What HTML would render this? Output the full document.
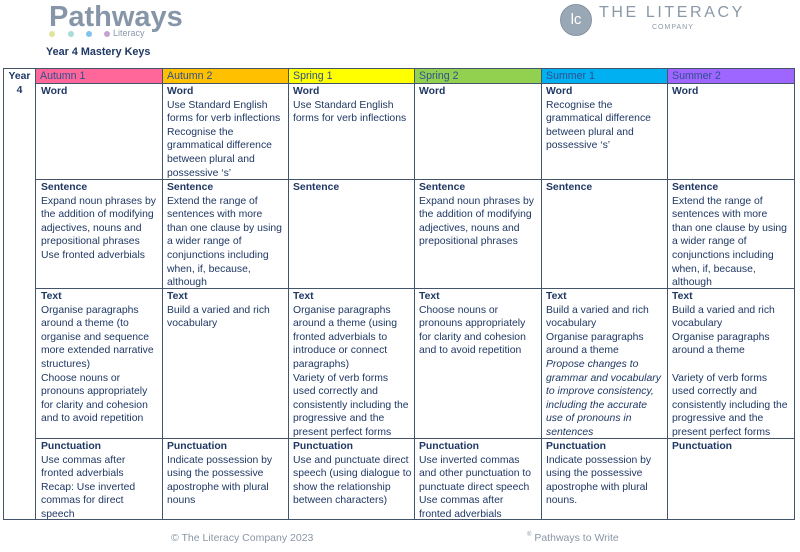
<!DOCTYPE html>
<html><head><meta charset="utf-8"><style>
body{margin:0;width:800px;height:552px;background:#fff;position:relative;overflow:hidden;font-family:"Liberation Sans",sans-serif;}
.c{position:absolute;font-size:10.4px;line-height:13.6px;color:#1f3864;white-space:nowrap;padding:1px 0 0 5px;box-sizing:border-box;}
.c b{font-weight:bold;}
.h{position:absolute;top:69px;height:14px;font-size:10.6px;line-height:14px;color:#2f4f8f;padding-left:5px;box-sizing:border-box;}
.vl{position:absolute;width:1px;background:#44546a;}
.hl{position:absolute;height:1px;background:#44546a;}
</style></head><body>
<div style="position:absolute;left:49px;top:1px;font-size:29px;font-weight:bold;color:#8696a8;letter-spacing:0px">Pathways</div>
<div style="position:absolute;left:49px;top:29px;width:120px;height:10px">
<span style="position:absolute;left:0;top:2px;width:6px;height:6px;border-radius:3px;background:#dfe59a"></span>
<span style="position:absolute;left:19px;top:2px;width:6px;height:6px;border-radius:3px;background:#a8dcd8"></span>
<span style="position:absolute;left:37px;top:2px;width:6px;height:6px;border-radius:3px;background:#7fc3ec"></span>
<span style="position:absolute;left:55px;top:2px;width:6px;height:6px;border-radius:3px;background:#c5a3cf"></span>
<span style="position:absolute;left:64px;top:-1px;font-size:9px;color:#8a9aac">Literacy</span></div>
<div style="position:absolute;left:46px;top:46px;font-size:10.8px;font-weight:bold;color:#1f3864">Year 4 Mastery Keys</div>
<div style="position:absolute;left:560px;top:4px;width:30px;height:30px;border-radius:50%;background:#9aa7b4;border:1px solid #8796a6;color:#fff;font-size:15px;line-height:30px;text-align:center">lc</div>
<div style="position:absolute;left:599px;top:4px;font-size:16px;letter-spacing:2.6px;color:#8a98a8">THE LITERACY</div>
<div style="position:absolute;left:652px;top:24px;font-size:7px;letter-spacing:1px;color:#8a98a8">COMPANY</div>

<div class="h" style="left:35px;width:127px;background:#ff6699">Autumn 1</div>
<div class="h" style="left:162px;width:126px;background:#ffc000">Autumn 2</div>
<div class="h" style="left:288px;width:126px;background:#ffff00">Spring 1</div>
<div class="h" style="left:414px;width:127px;background:#92d050">Spring 2</div>
<div class="h" style="left:541px;width:126px;background:#00b0f0">Summer 1</div>
<div class="h" style="left:667px;width:127px;background:#9f66ff">Summer 2</div>
<div class="c" style="left:4px;top:69px;width:31px;text-align:center;padding-left:0;font-weight:bold">Year<br>4</div>

<div class="vl" style="left:3px;top:68px;height:452px"></div>
<div class="vl" style="left:35px;top:68px;height:452px"></div>
<div class="vl" style="left:162px;top:68px;height:452px"></div>
<div class="vl" style="left:288px;top:68px;height:452px"></div>
<div class="vl" style="left:414px;top:68px;height:452px"></div>
<div class="vl" style="left:541px;top:68px;height:452px"></div>
<div class="vl" style="left:667px;top:68px;height:452px"></div>
<div class="vl" style="left:794px;top:68px;height:452px"></div>
<div class="hl" style="left:3px;top:68px;width:792px"></div>
<div class="hl" style="left:35px;top:83px;width:760px"></div>
<div class="hl" style="left:35px;top:179px;width:760px"></div>
<div class="hl" style="left:35px;top:288px;width:760px"></div>
<div class="hl" style="left:35px;top:438px;width:760px"></div>
<div class="hl" style="left:3px;top:519px;width:792px"></div>

<div class="c" style="left:36px;top:84px"><b>Word</b></div>
<div class="c" style="left:162px;top:84px"><b>Word</b><br>Use Standard English<br>forms for verb inflections<br>Recognise the<br>grammatical difference<br>between plural and<br>possessive ‘s’</div>
<div class="c" style="left:288px;top:84px"><b>Word</b><br>Use Standard English<br>forms for verb inflections</div>
<div class="c" style="left:414px;top:84px"><b>Word</b></div>
<div class="c" style="left:541px;top:84px"><b>Word</b><br>Recognise the<br>grammatical difference<br>between plural and<br>possessive ‘s’</div>
<div class="c" style="left:667px;top:84px"><b>Word</b></div>
<div class="c" style="left:36px;top:180px"><b>Sentence</b><br>Expand noun phrases by<br>the addition of modifying<br>adjectives, nouns and<br>prepositional phrases<br>Use fronted adverbials</div>
<div class="c" style="left:162px;top:180px"><b>Sentence</b><br>Extend the range of<br>sentences with more<br>than one clause by using<br>a wider range of<br>conjunctions including<br>when, if, because,<br>although</div>
<div class="c" style="left:288px;top:180px"><b>Sentence</b></div>
<div class="c" style="left:414px;top:180px"><b>Sentence</b><br>Expand noun phrases by<br>the addition of modifying<br>adjectives, nouns and<br>prepositional phrases</div>
<div class="c" style="left:541px;top:180px"><b>Sentence</b></div>
<div class="c" style="left:667px;top:180px"><b>Sentence</b><br>Extend the range of<br>sentences with more<br>than one clause by using<br>a wider range of<br>conjunctions including<br>when, if, because,<br>although</div>
<div class="c" style="left:36px;top:289px"><b>Text</b><br>Organise paragraphs<br>around a theme (to<br>organise and sequence<br>more extended narrative<br>structures)<br>Choose nouns or<br>pronouns appropriately<br>for clarity and cohesion<br>and to avoid repetition</div>
<div class="c" style="left:162px;top:289px"><b>Text</b><br>Build a varied and rich<br>vocabulary</div>
<div class="c" style="left:288px;top:289px"><b>Text</b><br>Organise paragraphs<br>around a theme (using<br>fronted adverbials to<br>introduce or connect<br>paragraphs)<br>Variety of verb forms<br>used correctly and<br>consistently including the<br>progressive and the<br>present perfect forms</div>
<div class="c" style="left:414px;top:289px"><b>Text</b><br>Choose nouns or<br>pronouns appropriately<br>for clarity and cohesion<br>and to avoid repetition</div>
<div class="c" style="left:541px;top:289px"><b>Text</b><br>Build a varied and rich<br>vocabulary<br>Organise paragraphs<br>around a theme<br><i>Propose changes to<br>grammar and vocabulary<br>to improve consistency,<br>including the accurate<br>use of pronouns in<br>sentences</i></div>
<div class="c" style="left:667px;top:289px"><b>Text</b><br>Build a varied and rich<br>vocabulary<br>Organise paragraphs<br>around a theme<br><br>Variety of verb forms<br>used correctly and<br>consistently including the<br>progressive and the<br>present perfect forms</div>
<div class="c" style="left:36px;top:439px"><b>Punctuation</b><br>Use commas after<br>fronted adverbials<br>Recap: Use inverted<br>commas for direct<br>speech</div>
<div class="c" style="left:162px;top:439px"><b>Punctuation</b><br>Indicate possession by<br>using the possessive<br>apostrophe with plural<br>nouns</div>
<div class="c" style="left:288px;top:439px"><b>Punctuation</b><br>Use and punctuate direct<br>speech (using dialogue to<br>show the relationship<br>between characters)</div>
<div class="c" style="left:414px;top:439px"><b>Punctuation</b><br>Use inverted commas<br>and other punctuation to<br>punctuate direct speech<br>Use commas after<br>fronted adverbials</div>
<div class="c" style="left:541px;top:439px"><b>Punctuation</b><br>Indicate possession by<br>using the possessive<br>apostrophe with plural<br>nouns.</div>
<div class="c" style="left:667px;top:439px"><b>Punctuation</b></div>

<div style="position:absolute;left:171px;top:532px;font-size:10.5px;color:#8a96a6">© The Literacy Company 2023</div>
<div style="position:absolute;left:527px;top:532px;font-size:10.5px;color:#8a96a6"><span style="font-size:6px;vertical-align:top">®</span> Pathways to Write</div>
</body></html>
